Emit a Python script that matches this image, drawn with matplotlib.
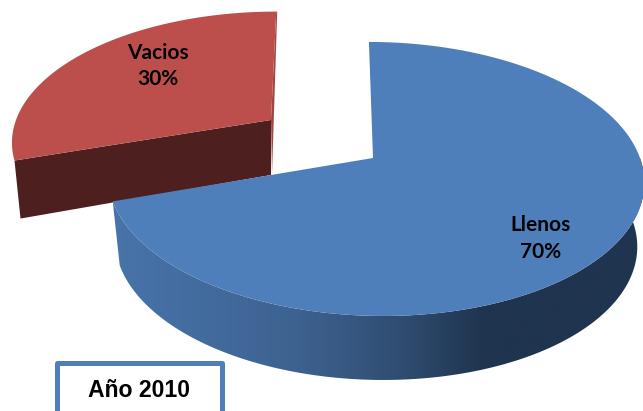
import numpy as np
import matplotlib
matplotlib.use("Agg")
import matplotlib.pyplot as plt
from matplotlib.colors import LinearSegmentedColormap
from matplotlib.patches import Polygon, Rectangle

categories = ["Llenos", "Vacios"]
values = [70, 30]
chart_label = "Año 2010"

BLUE = "#4f7fbb"
RED = "#bc4f4c"
DARK_RED = "#4d1f1f"
EDGE_RED = "#a04542"

fig = plt.figure(figsize=(6.43, 4.11), dpi=100)
ax = fig.add_axes([0, 0, 1, 1])
ax.axis("off")

K = 0.153
sweep = [v / sum(values) * 360 for v in values]


def ring(deg, cx, cy, bx, ay, skew):
    t = np.radians(deg)
    X, Y = np.cos(t), np.sin(t)
    w = 1 + K * Y
    return np.column_stack([cx + (bx * X + skew * Y) / w, cy - ay * Y / w])


# Blue slice: runs clockwise from 12 o'clock
blue_end = 90 - sweep[0]
top = dict(cx=375, cy=158, bx=265, ay=133.8, skew=-7)
low = dict(cx=375, cy=222, bx=258, ay=133.8, skew=-7)

# Blue side with horizontal gradient
side_deg = np.linspace(blue_end, 0, 200)
side_pts = np.vstack([ring(side_deg, **top), ring(side_deg[::-1], **low)])
side_poly = Polygon(side_pts, closed=True, fc="none", ec="none")
ax.add_patch(side_poly)
cmap = LinearSegmentedColormap.from_list(
    "side",
    [(0, "#4874aa"), (0.35, "#3d6290"), (0.55, "#2f4c70"), (0.7, "#1f344e"), (1, "#1f344e")],
)
img = ax.imshow(np.linspace(0, 1, 256)[None, :], cmap=cmap, aspect="auto",
                extent=(113, 643, 400, 150), zorder=2)
img.set_clip_path(side_poly)

# Blue top face
blue_deg = np.linspace(90, blue_end, 300)
blue_pts = np.vstack([ring(blue_deg, **top), [[top["cx"] - 2, top["cy"]]]])
ax.add_patch(Polygon(blue_pts, closed=True, fc=BLUE, ec="none", zorder=3))

# Red slice (pulled out)
red_top = dict(cx=271, cy=120, bx=255, ay=125, skew=6)
red_deg = np.linspace(90, 90 + sweep[1], 200)
red_arc = ring(red_deg, **red_top)
apex = np.array([[red_top["cx"], red_top["cy"]]])
left = red_arc[-1:]

ax.add_patch(Polygon(np.vstack([red_arc[:1], red_arc[:1] + [1, 0], apex + [1, 55], apex]),
                     closed=True, fc=EDGE_RED, ec="none", zorder=1))
ax.add_patch(Polygon(np.vstack([left, apex, apex + [0, 55], left + [6, 58]]),
                     closed=True, fc=DARK_RED, ec="none", zorder=1))
ax.add_patch(Polygon(np.vstack([red_arc, apex]), closed=True, fc=RED, ec="none", zorder=1.5))

# Labels
label_font = dict(family="Lato", fontweight="bold", fontsize=15, color="black",
                  ha="center", va="center", linespacing=1.4, zorder=5)
ax.text(541, 238.5, f"{categories[0]}\n{values[0]}%", **label_font)
ax.text(158, 66, f"{categories[1]}\n{values[1]}%", **label_font)

# Caption box
ax.add_patch(Rectangle((56.5, 362.5), 165, 60, fc="white", ec=BLUE, lw=3.6,
                       joinstyle="round", zorder=4))
ax.text(139, 390, chart_label, family="Liberation Sans", fontweight="bold", fontsize=16.6,
        color="black", ha="center", va="center", zorder=5)

ax.set_xlim(0, 643)
ax.set_ylim(411, 0)
fig.savefig("out.png", dpi=100)
